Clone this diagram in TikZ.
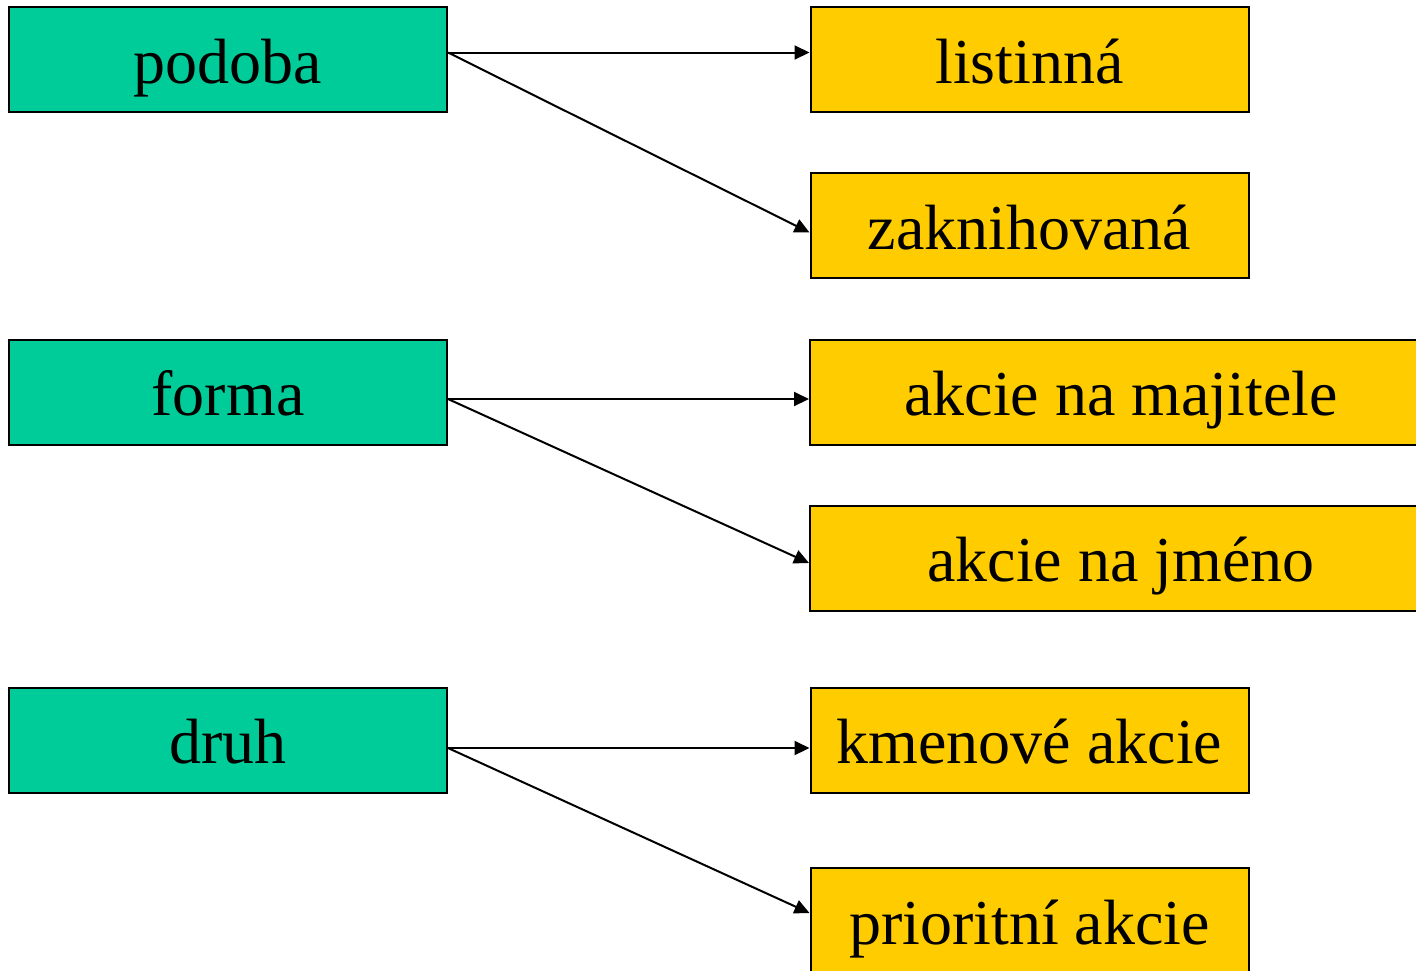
\documentclass[tikz,border=0pt]{standalone}
\usepackage{fontspec}
\setmainfont{Liberation Serif}
\usetikzlibrary{arrows.meta}
\definecolor{boxgreen}{RGB}{0,204,153}
\definecolor{boxyellow}{RGB}{255,204,0}
\begin{document}
\begin{tikzpicture}[x=0.5pt,y=-0.5pt,
    keybox/.style={draw=black,line width=1pt,fill=boxgreen,minimum width=219pt,minimum height=52.5pt,inner sep=0pt,text height=23.5pt,text depth=0pt,font=\fontsize{32pt}{32pt}\selectfont},
    valbox/.style={keybox,fill=boxyellow},
    widebox/.style={valbox,minimum width=311pt},
    arr/.style={line width=1pt,-{Triangle[length=7.5pt,width=7pt]}}]
  \useasboundingbox (0,0) rectangle (1416,970);
  % left column
  \node [keybox] (podoba) at (228,59.5) {podoba};
  \node [keybox] (forma) at (228,392) {forma};
  \node [keybox] (druh) at (228,740) {druh};
  % right column
  \node [valbox] (listinna) at (1029.5,59.5) {listinná};
  \node [valbox] (zaknihovana) at (1029.5,225.5) {zaknihovaná};
  \node [widebox] (majitele) at (1121,392) {akcie na majitele};
  \node [widebox] (jmeno) at (1121,558) {akcie na jméno};
  \node [valbox] (kmenove) at (1029.5,740) {kmenové akcie};
  \node [valbox] (prioritni) at (1029.5,920.5) {prioritní akcie};
  % arrows podoba
  \draw [arr] ([yshift=3.5pt]podoba.east) -- ([yshift=3.5pt]listinna.west);
  \draw [arr] ([yshift=3.5pt]podoba.east) -- ([yshift=-3.5pt]zaknihovana.west);
  % arrows forma
  \draw [arr] ([yshift=-3.5pt]forma.east) -- ([yshift=-3.5pt]majitele.west);
  \draw [arr] ([yshift=-3.5pt]forma.east) -- ([yshift=-2.5pt]jmeno.west);
  % arrows druh
  \draw [arr] ([yshift=-4pt]druh.east) -- ([yshift=-4pt]kmenove.west);
  \draw [arr] ([yshift=-4pt]druh.east) -- ([yshift=3.75pt]prioritni.west);
\end{tikzpicture}
\end{document}
